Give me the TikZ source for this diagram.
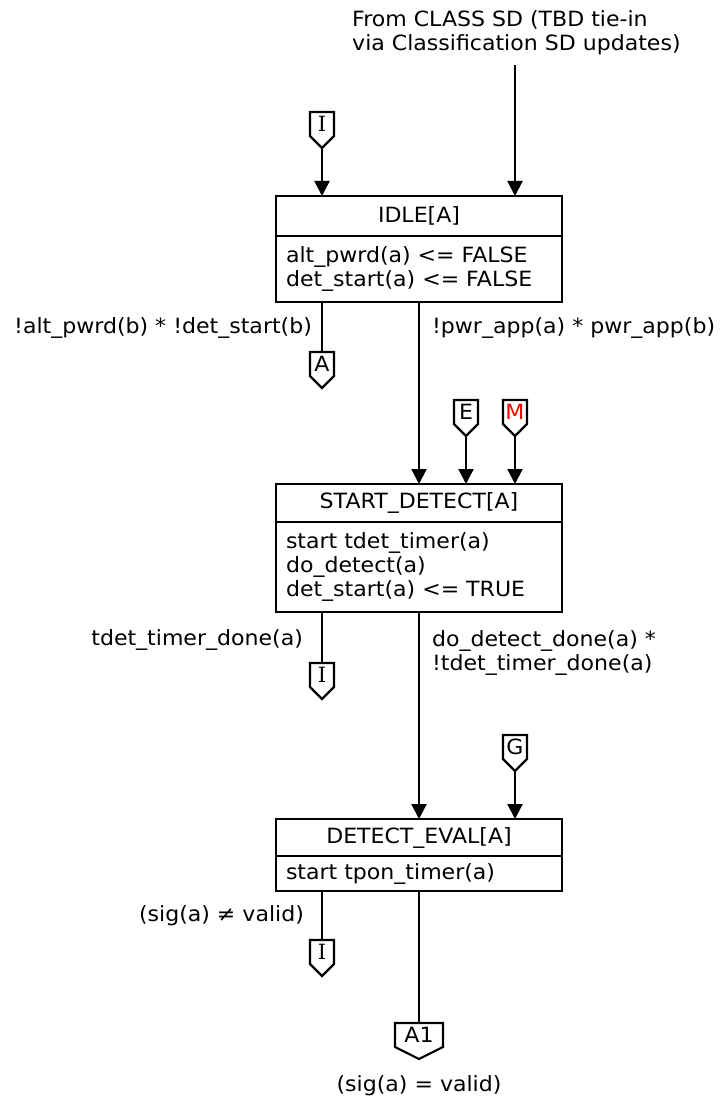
\documentclass[tikz,border=0pt]{standalone}
\usepackage{fontspec}
\setmainfont{DejaVu Sans}[FakeStretch=1.05]
\newfontfamily\serifI{DejaVu Serif}
\usepackage{tikz}
\usetikzlibrary{positioning, calc, arrows.meta}
\tikzset{ttl/.style={draw, line width=2.2pt, outer sep=0pt, minimum width=286pt, inner sep=0pt}}
\tikzset{bdy/.style={draw, line width=2.2pt, outer sep=0pt, text width=266pt, inner xsep=10pt, inner ysep=0pt, align=left}}
\tikzset{offpg/.style={inner sep=0pt, outer sep=0pt, minimum width=24pt, minimum height=24pt,
	append after command={\pgfextra{\draw[line width=2.2pt]
		(\tikzlastnode.south west) -- (\tikzlastnode.north west) -- (\tikzlastnode.north east)
		-- (\tikzlastnode.south east) -- ([yshift=-12pt]\tikzlastnode.south) -- cycle;}}}}
\tikzset{ln/.style={draw, line width=2.2pt}}
\tikzset{arr/.style={ln, -{Triangle[width=15pt, length=15pt]}}}
\tikzset{lbl/.style={inner sep=0pt}}

\begin{document}
\begin{tikzpicture}[x=1pt, y=-1pt, font=\fontsize{21}{24}\selectfont]
		\useasboundingbox (0,0) rectangle (721,1102);
		% states
		\node[ttl, minimum height=40pt] (idle) at (419,216) {IDLE[A]};
		\node[bdy, minimum height=66pt, below=0pt of idle] (idleb)
			{alt\_pwrd(a) <= FALSE\\det\_start(a) <= FALSE};
		\node[ttl, minimum height=38pt] (sdet) at (419,503) {START\_DETECT[A]};
		\node[bdy, minimum height=90pt, below=0pt of sdet] (sdetb)
			{start tdet\_timer(a)\\do\_detect(a)\\det\_start(a) <= TRUE};
		\node[ttl, minimum height=37pt] (deval) at (419,837.5) {DETECT\_EVAL[A]};
		\node[bdy, minimum height=35pt, below=0pt of deval] (devalb)
			{start tpon\_timer(a)};
		% off-page connectors
		\node[offpg] (cI1) at (322,124) {\serifI I};
		\node[offpg] (cA) at (322,364) {A};
		\node[offpg] (cE) at (466,412) {E};
		\node[offpg] (cM) at (515,412) {\textcolor{red}{M}};
		\node[offpg] (cI2) at (322,675) {\serifI I};
		\node[offpg] (cG) at (515,747) {G};
		\node[offpg] (cI3) at (322,952) {\serifI I};
		\node[offpg, minimum width=48pt] (cA1) at (419,1035) {A1};
		% source
		\node[lbl, anchor=north west, align=left] (src) at (352,10)
			{From CLASS SD (TBD tie-in\\via Classification SD updates)};
		\coordinate (cls) at (515,65);
		\draw[arr] (cls) -- (cls |- idle.north);
		\draw[arr] ([yshift=-12pt]cI1.south) -- (cI1 |- idle.north);
		% from IDLE
		\draw[ln] (idleb.south -| cA) --
			node[lbl, left=9pt, pos=0.52]{!alt\_pwrd(b) * !det\_start(b)}
			(cA.north);
		\draw[arr] (idleb.south) --
			node[lbl, right=12pt, pos=0.145]{!pwr\_app(a) * pwr\_app(b)}
			(sdet.north);
		\draw[arr] ([yshift=-12pt]cE.south) -- (cE |- sdet.north);
		\draw[arr] ([yshift=-12pt]cM.south) -- (cM |- sdet.north);
		% from START_DETECT
		\draw[ln] (sdetb.south -| cI2) --
			node[lbl, left=18pt, pos=0.54]{tdet\_timer\_done(a)}
			(cI2.north);
		\draw[arr] (sdetb.south) --
			node[lbl, right=12pt, pos=0.2, align=left]{do\_detect\_done(a) *\\!tdet\_timer\_done(a)}
			(deval.north);
		\draw[arr] ([yshift=-12pt]cG.south) -- (cG |- deval.north);
		% from DETECT_EVAL
		\draw[ln] (devalb.south -| cI3) --
			node[lbl, left=17pt, pos=0.5]{(sig(a) ≠ valid)}
			(cI3.north);
		\draw[ln] (devalb.south) -- (cA1.north);
		\node[lbl, below=28pt of cA1.south] (vld) {(sig(a) = valid)};
	\end{tikzpicture}
\end{document}
